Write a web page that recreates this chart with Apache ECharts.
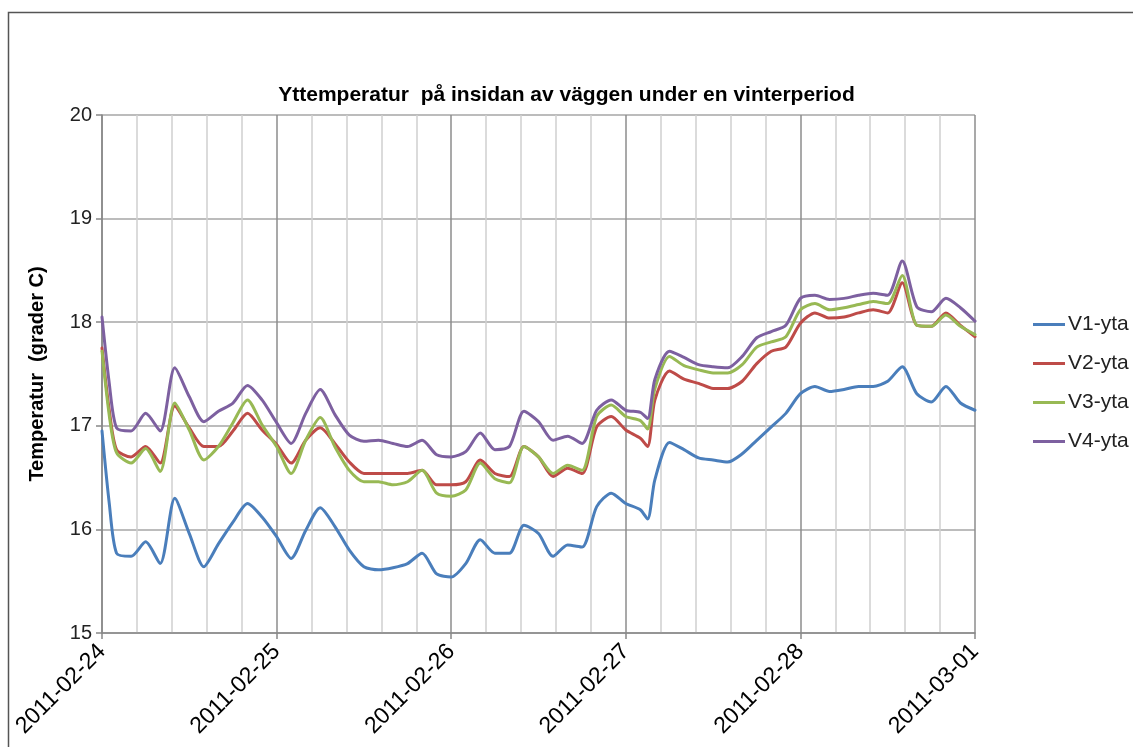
<!DOCTYPE html>
<html>
<head>
<meta charset="utf-8">
<script src="https://cdn.jsdelivr.net/npm/echarts@6/dist/echarts.min.js"></script>
<style>
  html, body { margin: 0; padding: 0; background: #fff; }
  #chart { width: 1133px; height: 747px; }
</style>
</head>
<body>
<div id="chart"></div>
<script>
// timmar från 2011-02-24 00:00
const hours = [0, 1, 2, 4, 6, 8, 10, 12, 14, 16, 18, 20,
  22, 24, 26, 28, 30, 32, 34, 36, 38, 40,
  42, 44, 46, 48, 50, 52, 54, 56, 58, 60,
  62, 64, 66, 68, 70, 72, 74, 75, 76, 78, 80,
  82, 84, 86, 88, 90, 92, 94, 96, 98, 100,
  102, 104, 106, 108, 110, 112, 114, 116, 118, 120]
const dayLabels = ['2011-02-24', '2011-02-25', '2011-02-26', '2011-02-27', '2011-02-28', '2011-03-01']
const seriesNames = ['V1-yta', 'V2-yta', 'V3-yta', 'V4-yta']
const colors = ['#4a7ebb', '#be4b48', '#98b954', '#7d60a0']

const v1 = [16.95, 16.25, 15.77, 15.74, 15.88, 15.67, 16.30, 15.96, 15.64, 15.86, 16.07, 16.25,
  16.12, 15.93, 15.72, 15.99, 16.21, 16.03, 15.80, 15.64, 15.61, 15.63,
  15.67, 15.77, 15.57, 15.54, 15.67, 15.90, 15.77, 15.77, 16.04, 15.96,
  15.74, 15.85, 15.83, 16.22, 16.35, 16.25, 16.19, 16.10, 16.48, 16.84, 16.77,
  16.69, 16.67, 16.65, 16.73, 16.86, 16.99, 17.12, 17.31, 17.38, 17.33,
  17.35, 17.38, 17.38, 17.43, 17.57, 17.31, 17.23, 17.38, 17.22, 17.15]
const v2 = [17.75, 17.15, 16.77, 16.70, 16.80, 16.64, 17.19, 16.98, 16.80, 16.80, 16.95, 17.12,
  16.96, 16.82, 16.64, 16.86, 16.98, 16.83, 16.65, 16.54, 16.54, 16.54,
  16.54, 16.57, 16.43, 16.43, 16.46, 16.67, 16.54, 16.51, 16.80, 16.70,
  16.51, 16.59, 16.54, 16.99, 17.09, 16.96, 16.88, 16.80, 17.25, 17.53, 17.45,
  17.41, 17.36, 17.36, 17.43, 17.60, 17.72, 17.76, 17.99, 18.09, 18.04,
  18.05, 18.09, 18.12, 18.09, 18.38, 17.97, 17.96, 18.09, 17.97, 17.86]
const v3 = [17.72, 17.10, 16.74, 16.64, 16.78, 16.56, 17.22, 16.96, 16.67, 16.80, 17.03, 17.25,
  17.01, 16.80, 16.54, 16.86, 17.08, 16.80, 16.57, 16.46, 16.46, 16.43,
  16.46, 16.57, 16.35, 16.32, 16.38, 16.64, 16.49, 16.45, 16.80, 16.70,
  16.54, 16.62, 16.57, 17.09, 17.20, 17.09, 17.05, 16.97, 17.36, 17.67, 17.58,
  17.54, 17.51, 17.51, 17.59, 17.76, 17.81, 17.86, 18.12, 18.18, 18.12,
  18.14, 18.17, 18.20, 18.18, 18.45, 17.97, 17.96, 18.07, 17.96, 17.88]
const v4 = [18.05, 17.41, 16.98, 16.95, 17.12, 16.95, 17.56, 17.28, 17.04, 17.14, 17.22, 17.39,
  17.25, 17.03, 16.83, 17.12, 17.35, 17.11, 16.91, 16.85, 16.86, 16.83,
  16.80, 16.86, 16.72, 16.70, 16.75, 16.93, 16.77, 16.80, 17.14, 17.04,
  16.86, 16.90, 16.83, 17.15, 17.25, 17.15, 17.13, 17.07, 17.45, 17.72, 17.66,
  17.59, 17.57, 17.56, 17.67, 17.85, 17.91, 17.97, 18.23, 18.26, 18.22,
  18.23, 18.26, 18.28, 18.26, 18.59, 18.15, 18.10, 18.23, 18.14, 18.01]
const values = [v1, v2, v3, v4]

const font = 'Liberation Sans'
const chart = echarts.init(document.getElementById('chart'))
chart.setOption({
  animation: false,
  backgroundColor: '#fff',
  textStyle: { fontFamily: font },
  graphic: [{
    type: 'rect',
    shape: { x: 8.5, y: 12.5, width: 1200, height: 800 },
    style: { fill: 'none', stroke: '#555', lineWidth: 1.5 }
  }],
  title: {
    text: 'Yttemperatur  på insidan av väggen under en vinterperiod',
    left: 'center',
    top: 80,
    textStyle: { fontSize: 21, fontWeight: 'bold', color: '#000', fontFamily: font }
  },
  legend: {
    orient: 'vertical',
    left: 1028,
    top: 309,
    itemGap: 18,
    itemWidth: 32,
    itemHeight: 3,
    icon: 'rect',
    textStyle: { fontSize: 21, color: '#222', fontFamily: font, padding: [0, 0, 0, -2] },
    data: seriesNames
  },
  grid: { left: 102, right: 158, top: 115, bottom: 114 },
  xAxis: {
    type: 'value',
    min: 0,
    max: 120,
    interval: 24,
    axisLine: { show: true, lineStyle: { color: '#888', width: 1.5 } },
    axisTick: { show: true, length: 6, lineStyle: { color: '#888', width: 1.5 } },
    minorTick: { show: false, splitNumber: 5 },
    splitLine: { show: true, lineStyle: { color: '#8c8c8c', width: 1.5 } },
    minorSplitLine: { show: true, lineStyle: { color: '#cfcfcf', width: 1.5 } },
    axisLabel: {
      rotate: 45,
      fontSize: 23,
      color: '#000',
      margin: 15,
      formatter: v => dayLabels[Math.round(v / 24)]
    }
  },
  yAxis: {
    type: 'value',
    min: 15,
    max: 20,
    interval: 1,
    name: 'Temperatur  (grader C)',
    nameLocation: 'middle',
    nameRotate: 90,
    nameGap: 55,
    nameTextStyle: { fontSize: 20, fontWeight: 'bold', color: '#000' },
    axisLine: { show: true, lineStyle: { color: '#888', width: 1.5 } },
    axisTick: { show: true, length: 6, lineStyle: { color: '#888', width: 1.5 } },
    splitLine: { lineStyle: { color: '#a6a6a6', width: 1.5 } },
    axisLabel: { fontSize: 20, color: '#222', margin: 10 }
  },
  series: seriesNames.map((name, i) => ({
    name: name,
    type: 'line',
    showSymbol: false,
    smooth: 0.25,
    color: colors[i],
    lineStyle: { width: 3, cap: 'round', join: 'round' },
    data: hours.map((h, j) => [h, values[i][j]])
  }))
})
</script>
</body>
</html>
